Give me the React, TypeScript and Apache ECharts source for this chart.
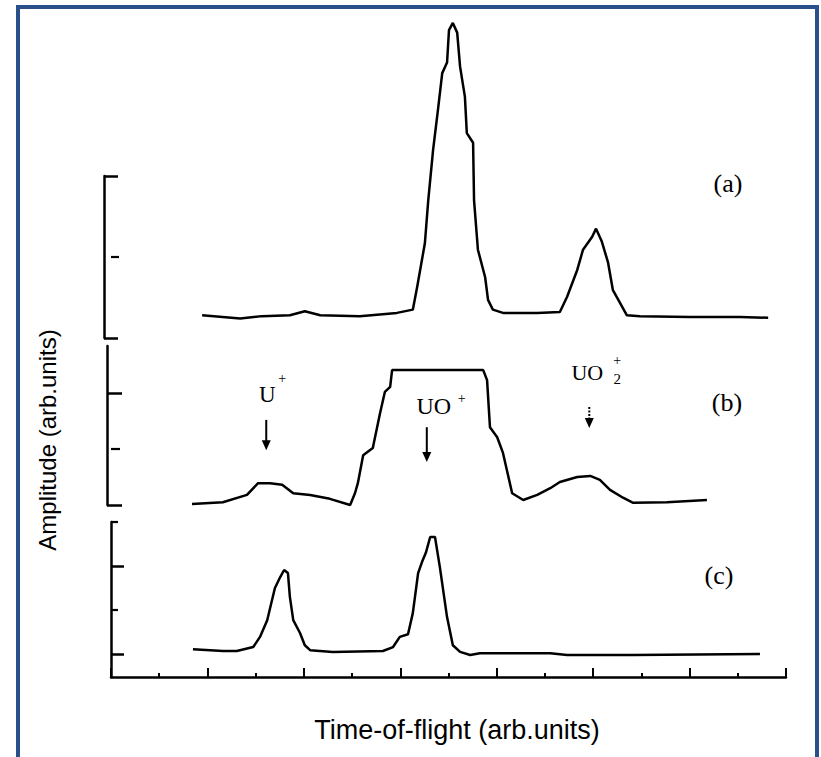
import React, { useEffect, useRef } from "react";
import * as echarts from "echarts";

// Time-of-flight positions (arb. units, 0..14) and amplitudes for each trace
const tofA = [1.89, 2.68, 3.13, 3.71, 4.02, 4.34, 5.16, 5.93, 6.26, 6.35, 6.51, 6.58, 6.68, 6.78, 6.87, 6.97, 7.01, 7.09, 7.18, 7.24, 7.34, 7.38, 7.51, 7.53, 7.61, 7.76, 7.82, 7.92, 8.13, 8.84, 9.31, 9.46, 9.67, 9.79, 9.98, 10.06, 10.18, 10.31, 10.41, 10.56, 10.7, 10.97, 12.01, 13.05, 13.63];
const ampA = [0.28, 0.24, 0.27, 0.28, 0.33, 0.28, 0.27, 0.31, 0.35, 0.63, 1.17, 1.7, 2.32, 2.81, 3.27, 3.4, 3.8, 3.89, 3.77, 3.35, 2.98, 2.53, 2.41, 1.7, 1.09, 0.75, 0.47, 0.35, 0.31, 0.31, 0.32, 0.51, 0.84, 1.09, 1.25, 1.35, 1.19, 0.93, 0.59, 0.43, 0.28, 0.27, 0.26, 0.26, 0.25];

const tofB = [1.68, 2.32, 2.82, 3.05, 3.3, 3.55, 3.78, 4.13, 4.54, 4.96, 5.06, 5.12, 5.23, 5.43, 5.58, 5.68, 5.79, 5.83, 7.72, 7.8, 7.86, 8.01, 8.13, 8.32, 8.55, 8.84, 9.11, 9.31, 9.67, 9.94, 10.14, 10.35, 10.62, 10.83, 11.53, 12.36];
const ampB = [0.02, 0.05, 0.18, 0.39, 0.39, 0.36, 0.21, 0.18, 0.11, 0.0, 0.21, 0.39, 0.89, 1.02, 1.64, 2.02, 2.11, 2.41, 2.41, 2.23, 1.39, 1.21, 0.93, 0.21, 0.09, 0.18, 0.3, 0.41, 0.5, 0.52, 0.45, 0.27, 0.13, 0.04, 0.05, 0.09];

const tofC = [1.7, 2.32, 2.61, 2.95, 3.09, 3.24, 3.34, 3.4, 3.51, 3.59, 3.67, 3.71, 3.78, 3.92, 4.02, 4.13, 4.6, 5.64, 5.85, 5.99, 6.16, 6.26, 6.37, 6.45, 6.53, 6.62, 6.72, 6.82, 6.97, 7.09, 7.24, 7.45, 7.65, 9.11, 9.46, 10.83, 13.46];
const ampC = [0.11, 0.07, 0.07, 0.16, 0.39, 0.77, 1.23, 1.5, 1.75, 1.91, 1.84, 1.3, 0.77, 0.48, 0.2, 0.09, 0.05, 0.07, 0.16, 0.39, 0.45, 0.93, 1.84, 2.09, 2.3, 2.66, 2.66, 1.98, 0.84, 0.2, 0.05, -0.02, 0.02, 0.02, -0.02, -0.02, 0.0];

const panelLabels = ["(a)", "(b)", "(c)"];
const xAxisTitle = "Time-of-flight (arb.units)";
const yAxisTitle = "Amplitude (arb.units)";

// Ion annotations on trace (b): arrow x position and arrow top/bottom amplitude
const ionNames = ["U", "UO", "UO"];
const ionTof = [3.22, 6.55, 9.92];
const ionArrowTop = [1.52, 1.39, 1.75];
const ionArrowBottom = [0.98, 0.77, 1.375];

const zip = (xs: number[], ys: number[]) => xs.map((x, i) => [x, ys[i]]);

const BLACK = "#000";
const serif = "'Liberation Serif', 'Times New Roman', serif";
const sans = "'Liberation Sans', Arial, sans-serif";

export default function App() {
  const ref = useRef<HTMLDivElement>(null);

  useEffect(() => {
    if (!ref.current) return;
    const chart = echarts.init(ref.current, undefined, { renderer: "svg" });

    const gridBase = { left: 111, width: 675 };
    const yRanges = [
      { min: 0, max: 2, offset: 7, longT: [0, 2], shortT: [1], longLen: 14, shortLen: 8 },
      { min: 0, max: 2.84, offset: 4, longT: [0, 2], shortT: [1], longLen: 15, shortLen: 9 },
      { min: -0.52, max: 3, offset: 0, longT: [0, 2], shortT: [1, 3], longLen: 13, shortLen: 7 },
    ];

    const yAxes: any[] = [];
    yRanges.forEach((r, i) => {
      yAxes.push({
        type: "value",
        gridIndex: i,
        min: r.min,
        max: r.max,
        position: "left",
        offset: r.offset,
        splitLine: { show: false },
        axisLabel: { show: false },
        axisLine: { show: true, onZero: false, lineStyle: { color: BLACK, width: 2.5 } },
        axisTick: {
          show: true,
          inside: true,
          length: r.longLen,
          customValues: r.longT,
          lineStyle: { color: BLACK, width: 2.5 },
        },
      });
    });
    yRanges.forEach((r, i) => {
      yAxes.push({
        type: "value",
        gridIndex: i,
        min: r.min,
        max: r.max,
        position: "left",
        offset: r.offset,
        splitLine: { show: false },
        axisLabel: { show: false },
        axisLine: { show: false },
        axisTick: {
          show: true,
          inside: true,
          length: r.shortLen,
          customValues: r.shortT,
          lineStyle: { color: BLACK, width: 2.2 },
        },
      });
    });

    const xAxes = [0, 1, 2].map((i) => ({
      type: "value",
      gridIndex: i,
      min: 0,
      max: 14,
      interval: 2,
      show: i === 2,
      splitLine: { show: false },
      axisLabel: { show: false },
      axisLine: { show: true, onZero: false, lineStyle: { color: BLACK, width: 2.5 } },
      axisTick: { show: true, inside: true, length: 9, lineStyle: { color: BLACK, width: 2 } },
      minorTick: { show: true, splitNumber: 2, length: 4, lineStyle: { color: BLACK, width: 2 } },
    }));

    const lineSeries = (i: number, data: number[][]) => ({
      type: "line",
      xAxisIndex: i,
      yAxisIndex: i,
      data,
      showSymbol: false,
      symbol: "none",
      clip: false,
      smooth: false,
      lineStyle: { color: BLACK, width: 2.5 },
    });

    chart.setOption({
      animation: false,
      backgroundColor: "#ffffff",
      textStyle: { fontFamily: serif },
      grid: [
        { ...gridBase, top: 176, height: 162 },
        { ...gridBase, top: 346, height: 159 },
        { ...gridBase, top: 522, height: 155 },
      ],
      xAxis: xAxes,
      yAxis: yAxes,
      series: [
        lineSeries(0, zip(tofA, ampA)),
        lineSeries(1, zip(tofB, ampB)),
        lineSeries(2, zip(tofC, ampC)),
      ],
    });

    const px = (g: number, u: number, v: number) =>
      chart.convertToPixel({ gridIndex: g } as any, [u, v]) as number[];

    const graphics: any[] = [];
    // frame
    graphics.push({
      type: "rect",
      shape: { x: 18, y: 7, width: 799, height: 790 },
      style: { fill: "none", stroke: "#29508A", lineWidth: 4 },
      silent: true,
    });
    // axis titles
    graphics.push({
      type: "text",
      x: 47,
      y: 440,
      rotation: Math.PI / 2,
      style: {
        text: yAxisTitle,
        font: `24px ${sans}`,
        fill: BLACK,
        textAlign: "center",
        textVerticalAlign: "middle",
      },
    });
    graphics.push({
      type: "text",
      x: 457,
      y: 730,
      style: {
        text: xAxisTitle,
        font: `27px ${sans}`,
        fill: BLACK,
        textAlign: "center",
        textVerticalAlign: "middle",
      },
    });
    // panel labels
    const panelPos = [
      [728, 183],
      [727, 402],
      [719, 575],
    ];
    panelLabels.forEach((t, i) => {
      graphics.push({
        type: "text",
        x: panelPos[i][0],
        y: panelPos[i][1],
        style: {
          text: t,
          font: `26px ${serif}`,
          fill: BLACK,
          textAlign: "center",
          textVerticalAlign: "middle",
        },
      });
    });
    // ion arrows and labels
    const labelOffsets = [
      { main: [1, -25], plus: [16, -41], sub: null, size: 23 },
      { main: [7, -21], plus: [35, -29], sub: null, size: 24 },
      { main: [-2, -35], plus: [28, -47], sub: [28, -28], size: 22 },
    ];
    ionTof.forEach((u, i) => {
      const top = px(1, u, ionArrowTop[i]);
      const bot = px(1, u, ionArrowBottom[i]);
      const x = top[0];
      graphics.push({
        type: "line",
        shape: { x1: x, y1: top[1], x2: x, y2: bot[1] - 8 },
        style: { stroke: BLACK, lineWidth: 2, lineDash: i === 2 ? [2, 1.5] : null },
      });
      graphics.push({
        type: "polygon",
        shape: { points: [[x - 4.5, bot[1] - 10], [x + 4.5, bot[1] - 10], [x, bot[1]]] },
        style: { fill: BLACK },
      });
      const o = labelOffsets[i];
      graphics.push({
        type: "text",
        x: x + o.main[0],
        y: top[1] + o.main[1],
        style: {
          text: ionNames[i],
          font: `${o.size}px ${serif}`,
          fill: BLACK,
          textAlign: "center",
          textVerticalAlign: "middle",
        },
      });
      graphics.push({
        type: "text",
        x: x + o.plus[0],
        y: top[1] + o.plus[1],
        style: {
          text: "+",
          font: `14px ${serif}`,
          fill: BLACK,
          textAlign: "center",
          textVerticalAlign: "middle",
        },
      });
      if (o.sub) {
        graphics.push({
          type: "text",
          x: x + o.sub[0],
          y: top[1] + o.sub[1],
          style: {
            text: "2",
            font: `15px ${serif}`,
            fill: BLACK,
            textAlign: "center",
            textVerticalAlign: "middle",
          },
        });
      }
    });

    chart.setOption({ graphic: graphics });

    return () => chart.dispose();
  }, []);

  return (
    <div
      ref={ref}
      style={{ position: "fixed", left: 0, top: 0, width: 821, height: 757, background: "#fff" }}
    />
  );
}
